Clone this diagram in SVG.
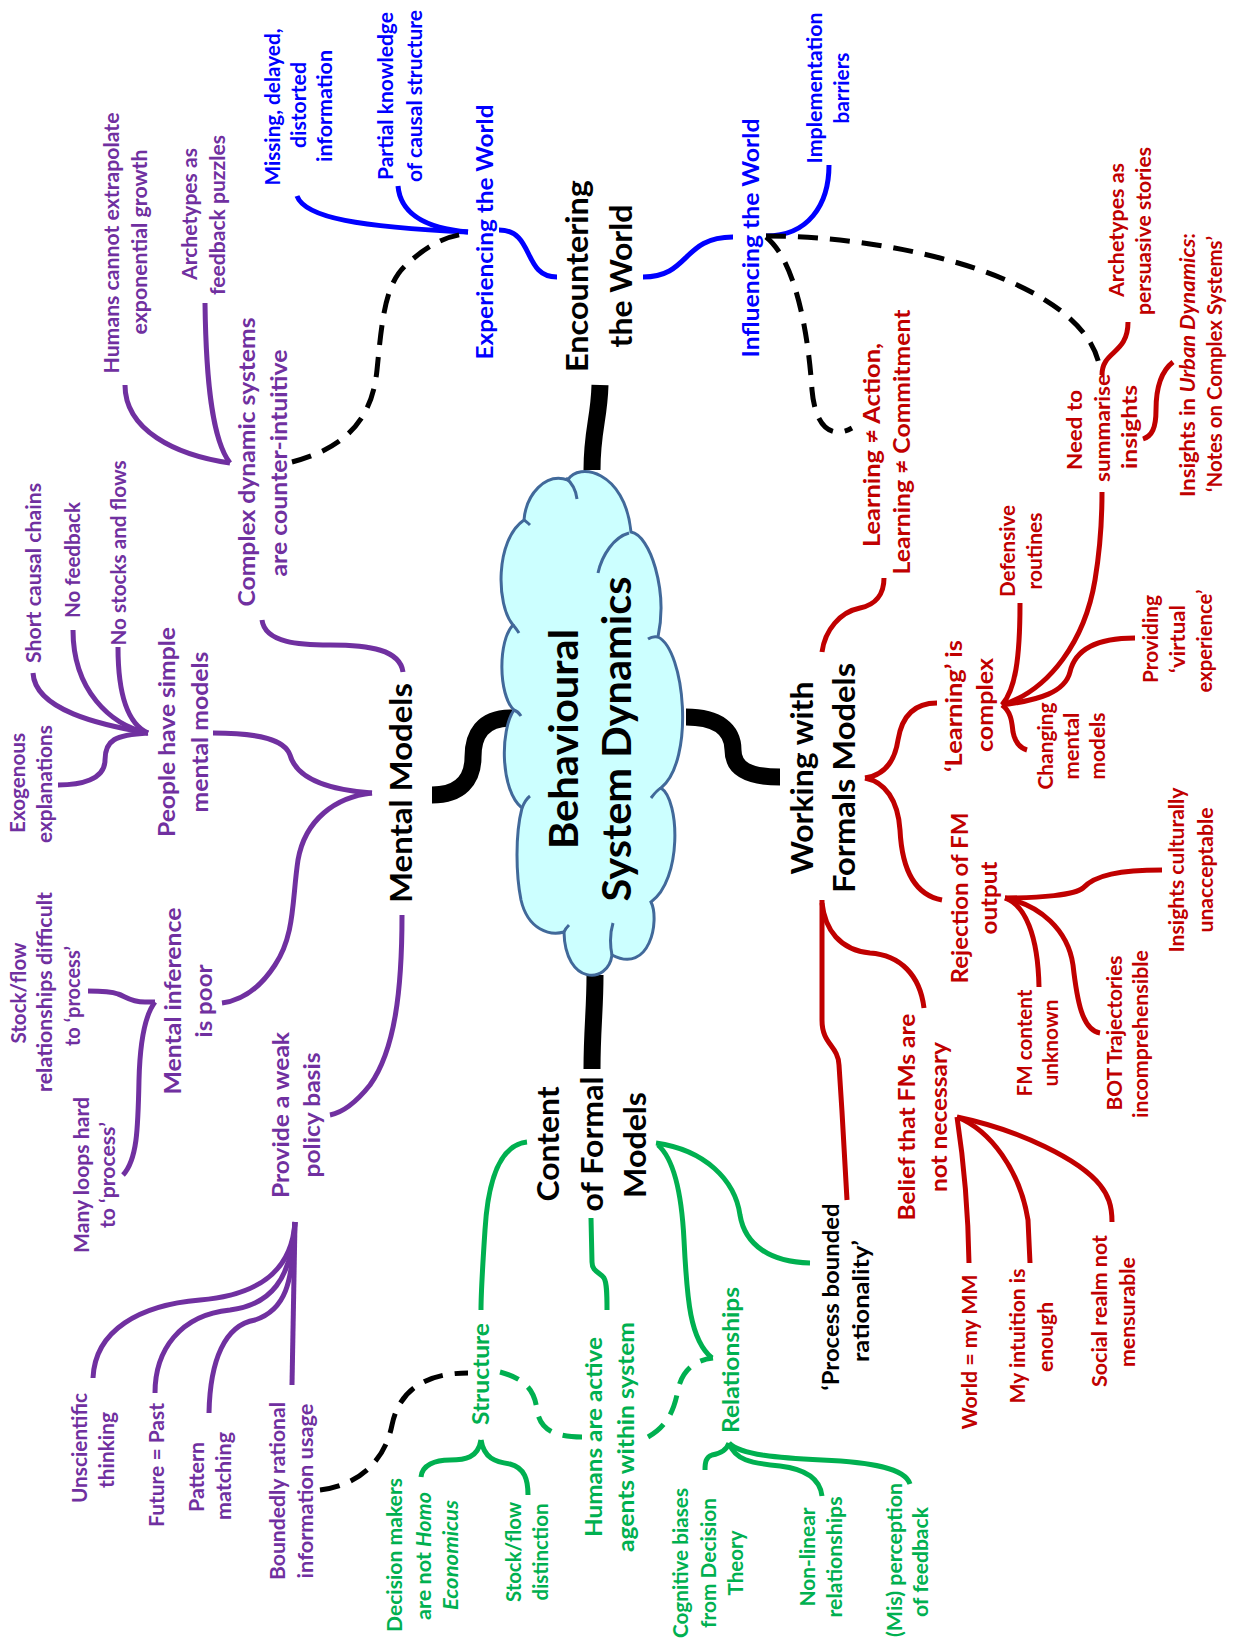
<svg xmlns="http://www.w3.org/2000/svg" width="1233" height="1642" viewBox="0 0 1233 1642">
<style>
text{font-family:Lato,"Liberation Sans",sans-serif;font-weight:700;text-anchor:middle}
.pu{fill:#7030A0}.bl{fill:#0000FF}.rd{fill:#C00000}.gr{fill:#00B050}.bk{fill:#000}
.s20{font-size:20px}.s22{font-size:22px}.s24{font-size:23.5px}.s31{font-size:31px}.s40{font-size:40px}
.c{fill:none;stroke-width:5;stroke-linecap:butt}
.cp{stroke:#7030A0}.cb{stroke:#0000FF}.cr{stroke:#C00000}.cg{stroke:#00B050}.ck{stroke:#000}
.d{stroke-dasharray:20 12}
.thick{fill:none;stroke:#000;stroke-width:17}
.cl{fill:#CCFFFF;stroke:#41699A;stroke-width:3}
.ci{fill:none;stroke:#41699A;stroke-width:3}
</style>
<g id="connectors">
<path class="thick" d="M600,385 C599,420 592,430 592,470"/>
<path class="thick" d="M512,718 C482,718 473,735 473,757 C473,780 460,795 432,795"/>
<path class="thick" d="M686,717 C718,717 733,730 733,750 C733,770 750,777 780,777"/>
<path class="thick" d="M595,975 C595,1010 592,1030 592,1069"/>
<path class="c cb" d="M297,196 C305,218 360,227 468,232"/>
<path class="c cb" d="M398,186 C400,210 420,228 468,232"/>
<path class="c cb" d="M499,230 C535,230 522,277 557,277"/>
<path class="c cb" d="M643,277 C690,277 682,237 733,237"/>
<path class="c cb" d="M766,236 C808,236 829,205 829,165"/>
<path class="c ck d" d="M292,462 C345,448 372,420 377,370 C382,320 385,285 405,266 C425,247 445,236 465,234"/>
<path class="c ck d" d="M766,237 C795,260 808,330 812,390 C815,425 830,440 852,428"/>
<path class="c ck d" d="M766,236 C900,236 1080,280 1099,364"/>
<path class="c ck d" d="M320,1490 C360,1485 385,1460 392,1425 C398,1395 420,1373 468,1373"/>
<path class="c cg d" d="M500,1372 C530,1380 535,1395 537,1410 C540,1430 555,1437 582,1437"/>
<path class="c cg d" d="M648,1437 C670,1425 675,1405 678,1390 C682,1370 695,1360 713,1358"/>
<path class="c cp" d="M125,385 C125,430 175,455 230,463"/>
<path class="c cp" d="M205,303 C206,380 212,440 230,463"/>
<path class="c cp" d="M262,620 C265,643 300,645 330,645 C370,645 400,650 403,672"/>
<path class="c cp" d="M33,673 C35,710 100,725 148,733"/>
<path class="c cp" d="M73,630 C73,690 110,725 148,733"/>
<path class="c cp" d="M118,647 C118,700 130,725 148,733"/>
<path class="c cp" d="M148,733 C115,735 105,740 105,760 C105,780 80,785 58,785"/>
<path class="c cp" d="M213,733 C260,733 285,740 290,755 C297,780 330,790 372,793"/>
<path class="c cp" d="M372,793 C335,797 305,820 298,860 C292,900 295,935 275,965 C262,985 245,1000 222,1003"/>
<path class="c cp" d="M402,915 C402,990 395,1050 370,1085 C358,1100 345,1112 330,1115"/>
<path class="c cp" d="M155,1002 L145,1002 C130,1002 125,996 118,994 C110,991 100,991 88,991"/>
<path class="c cp" d="M155,1002 C145,1015 140,1040 139,1080 C138,1130 137,1160 123,1175"/>
<path class="c cp" d="M295,1222 C292,1270 260,1295 200,1300 C140,1305 95,1330 93,1378"/>
<path class="c cp" d="M295,1222 C292,1280 270,1305 230,1310 C180,1315 155,1350 155,1393"/>
<path class="c cp" d="M295,1222 C293,1285 285,1310 255,1320 C225,1325 210,1360 209,1413"/>
<path class="c cp" d="M295,1222 L292,1385"/>
<path class="c cr" d="M822,652 C825,630 840,612 860,608 C875,605 884,595 884,578"/>
<path class="c cr" d="M865,778 C885,775 895,760 898,740 C902,715 915,703 937,703"/>
<path class="c cr" d="M865,778 C885,782 898,800 900,830 C902,870 915,895 942,900"/>
<path class="c cr" d="M822,903 C825,930 840,950 870,953 C900,955 920,975 924,1008"/>
<path class="c cr" d="M822,900 L822,1020 C822,1045 838,1045 839,1065 C842,1110 845,1160 847,1200"/>
<path class="c cr" d="M1002,705 C1015,690 1020,660 1020,603"/>
<path class="c cr" d="M1002,705 C1050,690 1085,640 1095,580 C1100,550 1102,520 1102,492"/>
<path class="c cr" d="M1002,705 C1040,700 1065,692 1070,672 C1075,650 1095,638 1135,638"/>
<path class="c cr" d="M1002,705 C1012,712 1012,725 1013,732 C1015,742 1020,748 1027,750"/>
<path class="c cr" d="M1102,375 C1102,350 1128,355 1128,322"/>
<path class="c cr" d="M1173,362 C1160,372 1156,390 1156,410 C1156,428 1152,436 1143,439"/>
<path class="c cr" d="M1005,898 C1040,898 1075,895 1083,888 C1095,875 1120,870 1162,870"/>
<path class="c cr" d="M1005,898 C1025,905 1038,935 1039,987"/>
<path class="c cr" d="M1005,898 C1040,905 1068,930 1073,965 C1077,1000 1082,1030 1100,1033"/>
<path class="c cr" d="M957,1117 C962,1150 968,1200 969,1263"/>
<path class="c cr" d="M957,1117 C990,1130 1020,1170 1028,1220 L1030,1263"/>
<path class="c cr" d="M957,1117 C1020,1130 1080,1160 1100,1185 C1108,1195 1112,1205 1112,1222"/>
<path class="c cg" d="M527,1142 C500,1145 488,1180 485,1230 C483,1260 481,1290 481,1310"/>
<path class="c cg" d="M591,1218 L592,1262 C592,1272 600,1272 604,1278 C607,1283 607,1295 607,1310"/>
<path class="c cg" d="M656,1143 C705,1150 735,1180 740,1215 C745,1245 770,1262 810,1263"/>
<path class="c cg" d="M658,1145 C675,1160 682,1200 684,1240 C687,1300 690,1340 712,1358"/>
<path class="c cg" d="M481,1440 C478,1458 465,1460 450,1460 C435,1460 422,1465 421,1477"/>
<path class="c cg" d="M481,1440 C484,1458 495,1462 510,1464 C525,1468 528,1480 528,1495"/>
<path class="c cg" d="M729,1443 C726,1452 718,1454 712,1455 C706,1457 705,1462 705,1470"/>
<path class="c cg" d="M729,1443 C740,1455 780,1458 822,1460 C870,1462 905,1468 910,1484"/>
<path class="c cg" d="M729,1443 C735,1460 750,1463 780,1466 C805,1469 820,1478 822,1496"/>
</g>
<g id="cloud">
<path class="cl" d="M524,520 C526,495 545,472 568,480 C578,462 625,470 631,532 C650,535 668,590 658,637 C685,650 695,760 661,788 C680,800 682,880 651,902 C660,920 650,975 612,955 C608,985 565,985 564,932 C550,936 528,930 521,900 C516,875 515,835 522,808 C500,790 500,730 514,710 C498,695 498,640 513,625 C496,605 495,540 524,520 Z"/>
<path class="ci" d="M566,478 C572,483 576,490 577,499 M629,533 C614,537 602,555 598,573 M658,637 C654,636 651,637 648,639 M661,788 C657,790 654,794 651,798 M612,955 C610,945 610,933 613,923 M564,932 C565,929 567,927 569,925 M522,808 C524,803 526,799 530,796 M514,710 C517,711 519,713 521,716 M513,625 C515,627 517,630 519,633 M524,520 C526,521 528,523 530,525"/>
<g transform="rotate(-90)">
<text class="bk s40" x="-739" y="578" textLength="220" lengthAdjust="spacingAndGlyphs">Behavioural</text>
<text class="bk s40" x="-739" y="631" textLength="325" lengthAdjust="spacingAndGlyphs">System Dynamics</text>
</g>
</g>
<g id="encountering" transform="rotate(-90)">
<text class="bk s31" x="-276" y="588" textLength="192" lengthAdjust="spacingAndGlyphs">Encountering</text>
<text class="bk s31" x="-276" y="632" textLength="143" lengthAdjust="spacingAndGlyphs">the World</text>
</g>
<g id="experiencing" transform="rotate(-90)">
<text class="bl s24" x="-232" y="493" textLength="255" lengthAdjust="spacingAndGlyphs">Experiencing the World</text>
</g>
<g id="missing" transform="rotate(-90)">
<text class="bl s20" x="-107" y="280" textLength="157" lengthAdjust="spacingAndGlyphs">Missing, delayed,</text>
<text class="bl s20" x="-105" y="306" textLength="86" lengthAdjust="spacingAndGlyphs">distorted</text>
<text class="bl s20" x="-106" y="332" textLength="112" lengthAdjust="spacingAndGlyphs">information</text>
</g>
<g id="partial" transform="rotate(-90)">
<text class="bl s20" x="-96" y="393" textLength="168" lengthAdjust="spacingAndGlyphs">Partial knowledge</text>
<text class="bl s20" x="-96" y="422" textLength="172" lengthAdjust="spacingAndGlyphs">of causal structure</text>
</g>
<g id="influencing" transform="rotate(-90)">
<text class="bl s24" x="-238" y="759" textLength="239" lengthAdjust="spacingAndGlyphs">Influencing the World</text>
</g>
<g id="implementation" transform="rotate(-90)">
<text class="bl s20" x="-88" y="822" textLength="151" lengthAdjust="spacingAndGlyphs">Implementation</text>
<text class="bl s20" x="-88" y="849" textLength="71" lengthAdjust="spacingAndGlyphs">barriers</text>
</g>
<g id="mental-models" transform="rotate(-90)">
<text class="bk s31" x="-793" y="412" textLength="220" lengthAdjust="spacingAndGlyphs">Mental Models</text>
</g>
<g id="humans-cannot" transform="rotate(-90)">
<text class="pu s20" x="-243" y="119" textLength="261" lengthAdjust="spacingAndGlyphs">Humans cannot extrapolate</text>
<text class="pu s20" x="-242" y="147" textLength="185" lengthAdjust="spacingAndGlyphs">exponential growth</text>
</g>
<g id="archetypes-puzzles" transform="rotate(-90)">
<text class="pu s20" x="-214" y="197" textLength="132" lengthAdjust="spacingAndGlyphs">Archetypes as</text>
<text class="pu s20" x="-215" y="225" textLength="160" lengthAdjust="spacingAndGlyphs">feedback puzzles</text>
</g>
<g id="complex-dynamic" transform="rotate(-90)">
<text class="pu s24" x="-462" y="255" textLength="289" lengthAdjust="spacingAndGlyphs">Complex dynamic systems</text>
<text class="pu s24" x="-463" y="287" textLength="227" lengthAdjust="spacingAndGlyphs">are counter-intuitive</text>
</g>
<g id="short-causal" transform="rotate(-90)">
<text class="pu s20" x="-573" y="41" textLength="180" lengthAdjust="spacingAndGlyphs">Short causal chains</text>
</g>
<g id="no-feedback" transform="rotate(-90)">
<text class="pu s20" x="-560" y="80" textLength="116" lengthAdjust="spacingAndGlyphs">No feedback</text>
</g>
<g id="no-stocks" transform="rotate(-90)">
<text class="pu s20" x="-553" y="126" textLength="185" lengthAdjust="spacingAndGlyphs">No stocks and flows</text>
</g>
<g id="people-simple" transform="rotate(-90)">
<text class="pu s24" x="-732" y="175" textLength="210" lengthAdjust="spacingAndGlyphs">People have simple</text>
<text class="pu s24" x="-732" y="208" textLength="161" lengthAdjust="spacingAndGlyphs">mental models</text>
</g>
<g id="exogenous" transform="rotate(-90)">
<text class="pu s20" x="-783" y="25" textLength="100" lengthAdjust="spacingAndGlyphs">Exogenous</text>
<text class="pu s20" x="-784" y="52" textLength="118" lengthAdjust="spacingAndGlyphs">explanations</text>
</g>
<g id="stock-flow-difficult" transform="rotate(-90)">
<text class="pu s20" x="-993" y="26" textLength="101" lengthAdjust="spacingAndGlyphs">Stock/flow</text>
<text class="pu s20" x="-992" y="52" textLength="200" lengthAdjust="spacingAndGlyphs">relationships difficult</text>
<text class="pu s20" x="-996" y="80" textLength="100" lengthAdjust="spacingAndGlyphs">to ‘process’</text>
</g>
<g id="mental-inference" transform="rotate(-90)">
<text class="pu s24" x="-1001" y="181" textLength="187" lengthAdjust="spacingAndGlyphs">Mental inference</text>
<text class="pu s24" x="-1001" y="212" textLength="73" lengthAdjust="spacingAndGlyphs">is poor</text>
</g>
<g id="many-loops" transform="rotate(-90)">
<text class="pu s20" x="-1175" y="89" textLength="156" lengthAdjust="spacingAndGlyphs">Many loops hard</text>
<text class="pu s20" x="-1175" y="115" textLength="106" lengthAdjust="spacingAndGlyphs">to ‘process’</text>
</g>
<g id="weak-policy" transform="rotate(-90)">
<text class="pu s24" x="-1115" y="289" textLength="166" lengthAdjust="spacingAndGlyphs">Provide a weak</text>
<text class="pu s24" x="-1115" y="320" textLength="125" lengthAdjust="spacingAndGlyphs">policy basis</text>
</g>
<g id="unscientific" transform="rotate(-90)">
<text class="pu s20" x="-1448" y="87" textLength="110" lengthAdjust="spacingAndGlyphs">Unscientific</text>
<text class="pu s20" x="-1450" y="114" textLength="76" lengthAdjust="spacingAndGlyphs">thinking</text>
</g>
<g id="future-past" transform="rotate(-90)">
<text class="pu s20" x="-1465" y="164" textLength="124" lengthAdjust="spacingAndGlyphs">Future = Past</text>
</g>
<g id="pattern" transform="rotate(-90)">
<text class="pu s20" x="-1477" y="204" textLength="70" lengthAdjust="spacingAndGlyphs">Pattern</text>
<text class="pu s20" x="-1476" y="231" textLength="88" lengthAdjust="spacingAndGlyphs">matching</text>
</g>
<g id="boundedly" transform="rotate(-90)">
<text class="pu s20" x="-1491" y="285" textLength="178" lengthAdjust="spacingAndGlyphs">Boundedly rational</text>
<text class="pu s20" x="-1491" y="313" textLength="175" lengthAdjust="spacingAndGlyphs">information usage</text>
</g>
<g id="content-formal" transform="rotate(-90)">
<text class="bk s31" x="-1144" y="559" textLength="115" lengthAdjust="spacingAndGlyphs">Content</text>
<text class="bk s31" x="-1144" y="603" textLength="135" lengthAdjust="spacingAndGlyphs">of Formal</text>
<text class="bk s31" x="-1145" y="646" textLength="106" lengthAdjust="spacingAndGlyphs">Models</text>
</g>
<g id="structure" transform="rotate(-90)">
<text class="gr s24" x="-1374" y="489" textLength="102" lengthAdjust="spacingAndGlyphs">Structure</text>
</g>
<g id="humans-active" transform="rotate(-90)">
<text class="gr s24" x="-1437" y="602" textLength="200" lengthAdjust="spacingAndGlyphs">Humans are active</text>
<text class="gr s24" x="-1437" y="634" textLength="230" lengthAdjust="spacingAndGlyphs">agents within system</text>
</g>
<g id="relationships" transform="rotate(-90)">
<text class="gr s24" x="-1360" y="739" textLength="146" lengthAdjust="spacingAndGlyphs">Relationships</text>
</g>
<g id="decision-makers" transform="rotate(-90)">
<text class="gr s20" x="-1555" y="402" textLength="154" lengthAdjust="spacingAndGlyphs">Decision makers</text>
<text class="gr s20" x="-1556" y="431" textLength="128" lengthAdjust="spacingAndGlyphs">are not <tspan font-style="italic">Homo</tspan></text>
<text class="gr s20" x="-1555" y="458" textLength="110" lengthAdjust="spacingAndGlyphs" font-style="italic">Economicus</text>
</g>
<g id="stock-flow-distinction" transform="rotate(-90)">
<text class="gr s20" x="-1552" y="521" textLength="100" lengthAdjust="spacingAndGlyphs">Stock/flow</text>
<text class="gr s20" x="-1552" y="548" textLength="97" lengthAdjust="spacingAndGlyphs">distinction</text>
</g>
<g id="cognitive-biases" transform="rotate(-90)">
<text class="gr s20" x="-1563" y="688" textLength="150" lengthAdjust="spacingAndGlyphs">Cognitive biases</text>
<text class="gr s20" x="-1563" y="716" textLength="130" lengthAdjust="spacingAndGlyphs">from Decision</text>
<text class="gr s20" x="-1563" y="743" textLength="65" lengthAdjust="spacingAndGlyphs">Theory</text>
</g>
<g id="non-linear" transform="rotate(-90)">
<text class="gr s20" x="-1557" y="815" textLength="99" lengthAdjust="spacingAndGlyphs">Non-linear</text>
<text class="gr s20" x="-1557" y="842" textLength="121" lengthAdjust="spacingAndGlyphs">relationships</text>
</g>
<g id="mis-perception" transform="rotate(-90)">
<text class="gr s20" x="-1560" y="902" textLength="154" lengthAdjust="spacingAndGlyphs">(Mis) perception</text>
<text class="gr s20" x="-1562" y="928" textLength="110" lengthAdjust="spacingAndGlyphs">of feedback</text>
</g>
<g id="process-bounded" transform="rotate(-90)">
<text class="bk s24" x="-1297" y="839" textLength="187" lengthAdjust="spacingAndGlyphs">‘Process bounded</text>
<text class="bk s24" x="-1301" y="869" textLength="122" lengthAdjust="spacingAndGlyphs">rationality’</text>
</g>
<g id="working-formal" transform="rotate(-90)">
<text class="bk s31" x="-778" y="813" textLength="193" lengthAdjust="spacingAndGlyphs">Working with</text>
<text class="bk s31" x="-778" y="855" textLength="230" lengthAdjust="spacingAndGlyphs">Formals Models</text>
</g>
<g id="learning-action" transform="rotate(-90)">
<text class="rd s24" x="-445" y="880" textLength="204" lengthAdjust="spacingAndGlyphs">Learning ≠ Action,</text>
<text class="rd s24" x="-442" y="910" textLength="265" lengthAdjust="spacingAndGlyphs">Learning ≠ Commitment</text>
</g>
<g id="archetypes-stories" transform="rotate(-90)">
<text class="rd s20" x="-230" y="1124" textLength="134" lengthAdjust="spacingAndGlyphs">Archetypes as</text>
<text class="rd s20" x="-231" y="1151" textLength="168" lengthAdjust="spacingAndGlyphs">persuasive stories</text>
</g>
<g id="need-summarise" transform="rotate(-90)">
<text class="rd s20" x="-430" y="1082" textLength="80" lengthAdjust="spacingAndGlyphs">Need to</text>
<text class="rd s20" x="-428" y="1110" textLength="108" lengthAdjust="spacingAndGlyphs">summarise</text>
<text class="rd s20" x="-427" y="1137" textLength="84" lengthAdjust="spacingAndGlyphs">insights</text>
</g>
<g id="insights-urban" transform="rotate(-90)">
<text class="rd s20" x="-365" y="1195" textLength="264" lengthAdjust="spacingAndGlyphs">Insights in <tspan font-style="italic">Urban Dynamics</tspan>:</text>
<text class="rd s20" x="-364" y="1222" textLength="256" lengthAdjust="spacingAndGlyphs">‘Notes on Complex Systems’</text>
</g>
<g id="defensive" transform="rotate(-90)">
<text class="rd s20" x="-551" y="1015" textLength="92" lengthAdjust="spacingAndGlyphs">Defensive</text>
<text class="rd s20" x="-551" y="1042" textLength="77" lengthAdjust="spacingAndGlyphs">routines</text>
</g>
<g id="providing" transform="rotate(-90)">
<text class="rd s20" x="-639" y="1158" textLength="88" lengthAdjust="spacingAndGlyphs">Providing</text>
<text class="rd s20" x="-639" y="1185" textLength="68" lengthAdjust="spacingAndGlyphs">‘virtual</text>
<text class="rd s20" x="-641" y="1212" textLength="103" lengthAdjust="spacingAndGlyphs">experience’</text>
</g>
<g id="learning-complex" transform="rotate(-90)">
<text class="rd s24" x="-706" y="962" textLength="132" lengthAdjust="spacingAndGlyphs">‘Learning’ is</text>
<text class="rd s24" x="-705" y="993" textLength="94" lengthAdjust="spacingAndGlyphs">complex</text>
</g>
<g id="changing" transform="rotate(-90)">
<text class="rd s20" x="-746" y="1053" textLength="87" lengthAdjust="spacingAndGlyphs">Changing</text>
<text class="rd s20" x="-746" y="1079" textLength="67" lengthAdjust="spacingAndGlyphs">mental</text>
<text class="rd s20" x="-746" y="1105" textLength="67" lengthAdjust="spacingAndGlyphs">models</text>
</g>
<g id="rejection" transform="rotate(-90)">
<text class="rd s24" x="-898" y="968" textLength="171" lengthAdjust="spacingAndGlyphs">Rejection of FM</text>
<text class="rd s24" x="-898" y="997" textLength="73" lengthAdjust="spacingAndGlyphs">output</text>
</g>
<g id="insights-culturally" transform="rotate(-90)">
<text class="rd s20" x="-870" y="1184" textLength="165" lengthAdjust="spacingAndGlyphs">Insights culturally</text>
<text class="rd s20" x="-870" y="1213" textLength="125" lengthAdjust="spacingAndGlyphs">unacceptable</text>
</g>
<g id="fm-content" transform="rotate(-90)">
<text class="rd s20" x="-1043" y="1032" textLength="107" lengthAdjust="spacingAndGlyphs">FM content</text>
<text class="rd s20" x="-1043" y="1058" textLength="87" lengthAdjust="spacingAndGlyphs">unknown</text>
</g>
<g id="bot" transform="rotate(-90)">
<text class="rd s20" x="-1033" y="1122" textLength="155" lengthAdjust="spacingAndGlyphs">BOT Trajectories</text>
<text class="rd s20" x="-1034" y="1148" textLength="168" lengthAdjust="spacingAndGlyphs">incomprehensible</text>
</g>
<g id="belief" transform="rotate(-90)">
<text class="rd s24" x="-1117" y="915" textLength="207" lengthAdjust="spacingAndGlyphs">Belief that FMs are</text>
<text class="rd s24" x="-1117" y="947" textLength="150" lengthAdjust="spacingAndGlyphs">not necessary</text>
</g>
<g id="world-mm" transform="rotate(-90)">
<text class="rd s20" x="-1352" y="977" textLength="155" lengthAdjust="spacingAndGlyphs">World = my MM</text>
</g>
<g id="intuition" transform="rotate(-90)">
<text class="rd s20" x="-1336" y="1025" textLength="135" lengthAdjust="spacingAndGlyphs">My intuition is</text>
<text class="rd s20" x="-1337" y="1053" textLength="70" lengthAdjust="spacingAndGlyphs">enough</text>
</g>
<g id="social-realm" transform="rotate(-90)">
<text class="rd s20" x="-1311" y="1107" textLength="152" lengthAdjust="spacingAndGlyphs">Social realm not</text>
<text class="rd s20" x="-1312" y="1135" textLength="110" lengthAdjust="spacingAndGlyphs">mensurable</text>
</g>
</svg>
